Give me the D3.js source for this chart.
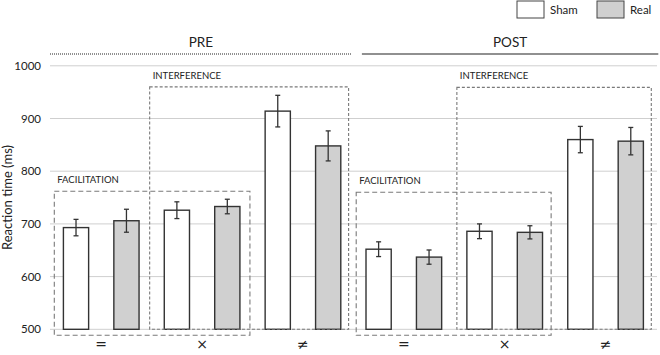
<!DOCTYPE html>
<html><head><meta charset="utf-8">
<script src="https://cdn.jsdelivr.net/npm/d3@7"></script>
<style>body{margin:0;background:#fff}svg{display:block;font-family:Lato,"Open Sans",sans-serif}</style>
</head><body><svg id="c" width="660" height="355"></svg>
<script>
const phases = ["PRE", "POST"];
const categories = ["=", "×", "≠"];
const series = ["Sham", "Real"];
const shamValues = [693, 726, 914, 652, 686, 860];
const realValues = [706, 733, 848, 637, 684, 857];
const shamErrors = [15.6, 15.9, 30, 14, 14, 25];
const realErrors = [21.8, 13.8, 28.5, 13.5, 12.5, 26];
const yTicks = [500, 600, 700, 800, 900, 1000];

const svg = d3.select("#c");
const groups = [];
phases.forEach(p => categories.forEach(c => groups.push(p + "|" + c)));

const x0 = d3.scaleBand().domain(groups).range([50.8, 656]).padding(0);
const x1 = d3.scaleBand().domain(series).range([0, x0.bandwidth()]).paddingInner(0.5).paddingOuter(0.25);
const y = d3.scaleLinear().domain([500, 1000]).range([329.3, 65.8]);

// gridlines
svg.append("g").selectAll("line").data(yTicks).join("line")
  .attr("x1", 50).attr("x2", 657).attr("y1", d => y(d)).attr("y2", d => y(d))
  .attr("stroke", "#cfcfcf").attr("stroke-width", 1);

// y axis labels
const yAxis = svg.append("g").attr("transform", "translate(41,0)")
  .call(d3.axisLeft(y).tickValues(yTicks).tickSize(0).tickPadding(0).tickFormat(d3.format("d")));
yAxis.select(".domain").remove();
yAxis.selectAll("text").attr("font-size", 11.5).attr("fill", "#222").attr("font-family", "Lato, sans-serif");

svg.append("text").attr("transform", "translate(12," + y(750) + ") rotate(-90)")
  .attr("text-anchor", "middle").attr("font-size", 13).attr("fill", "#222").text("Reaction time (ms)");

// boxes (dashed)
function box(g0, g1, vTop, vBot, inL, inR, dash, label) {
  const xl = x0(groups[g0]) + inL, xr = x0(groups[g1]) + x0.bandwidth() + inR;
  const yt = y(vTop), yb = y(vBot);
  svg.append("rect").attr("x", xl).attr("y", yt).attr("width", xr - xl).attr("height", yb - yt)
    .attr("fill", "none").attr("stroke", "#7a7a7a").attr("stroke-width", 1.1).attr("stroke-dasharray", dash);
  svg.append("text").attr("x", xl + 3).attr("y", yt - 8).attr("font-size", 9.5).attr("fill", "#222").text(label);
}

// bars
const rows = groups.map((g, i) => ({g, vals: [
  {s: "Sham", v: shamValues[i], e: shamErrors[i]},
  {s: "Real", v: realValues[i], e: realErrors[i]}]}));

const gBars = svg.append("g");
rows.forEach(r => {
  r.vals.forEach(d => {
    const bx = x0(r.g) + x1(d.s);
    gBars.append("rect").attr("x", bx).attr("y", y(d.v)).attr("width", x1.bandwidth())
      .attr("height", y(500) - y(d.v)).attr("fill", d.s === "Sham" ? "#ffffff" : "#d0d0d0")
      .attr("stroke", "#333").attr("stroke-width", 1.4);
  });
});
box(0, 1, 762, 488.6, 3.5, -2.6, "5,3", "FACILITATION");
box(1, 2, 960, 500, -2, -4.8, "3,2", "INTERFERENCE");
box(3, 4, 760, 488.6, 2.8, -4, "5,3", "FACILITATION");
box(4, 5, 959, 500, 2.6, -4.7, "3,2", "INTERFERENCE");

// error bars
rows.forEach(r => {
  r.vals.forEach(d => {
    const cx = x0(r.g) + x1(d.s) + x1.bandwidth() / 2;
    const g = svg.append("g").attr("stroke", "#333").attr("stroke-width", 1.3);
    g.append("line").attr("x1", cx).attr("x2", cx).attr("y1", y(d.v + d.e)).attr("y2", y(d.v - d.e));
    g.append("line").attr("x1", cx - 2.5).attr("x2", cx + 2.5).attr("y1", y(d.v + d.e)).attr("y2", y(d.v + d.e));
    g.append("line").attr("x1", cx - 2.5).attr("x2", cx + 2.5).attr("y1", y(d.v - d.e)).attr("y2", y(d.v - d.e));
  });
});

// category labels
svg.append("g").selectAll("text").data(groups).join("text")
  .attr("x", d => x0(d) + x0.bandwidth() / 2).attr("y", 349)
  .attr("text-anchor", "middle").attr("font-size", 14).attr("font-family", "DejaVu Sans, sans-serif")
  .attr("fill", "#222")
  .text(d => d.split("|")[1]);

// phase headers
const preL = x0(groups[0]) - 0.8, preR = x0(groups[2]) + x0.bandwidth() - 1.5;
const postL = x0(groups[3]) + 8.5, postR = x0(groups[5]) + x0.bandwidth() + 2.3;
svg.append("line").attr("x1", preL).attr("x2", preR).attr("y1", 54).attr("y2", 54)
  .attr("stroke", "#222").attr("stroke-width", 1).attr("stroke-dasharray", "1,1");
svg.append("line").attr("x1", postL).attr("x2", postR).attr("y1", 54).attr("y2", 54)
  .attr("stroke", "#222").attr("stroke-width", 1.2);
svg.append("text").attr("x", (preL + preR) / 2).attr("y", 47).attr("text-anchor", "middle")
  .attr("font-size", 13.5).attr("fill", "#222").text(phases[0]);
svg.append("text").attr("x", (postL + postR) / 2).attr("y", 47).attr("text-anchor", "middle")
  .attr("font-size", 13.5).attr("fill", "#222").text(phases[1]);

// legend
const legX = [517, 597];
series.forEach((s, i) => {
  svg.append("rect").attr("x", legX[i]).attr("y", 1).attr("width", 27).attr("height", 17)
    .attr("fill", s === "Sham" ? "#fff" : "#d0d0d0").attr("stroke", "#444").attr("stroke-width", 1);
  svg.append("text").attr("x", legX[i] + 33).attr("y", 14).attr("font-size", 11.5).attr("fill", "#222").text(s);
});
</script></body></html>
